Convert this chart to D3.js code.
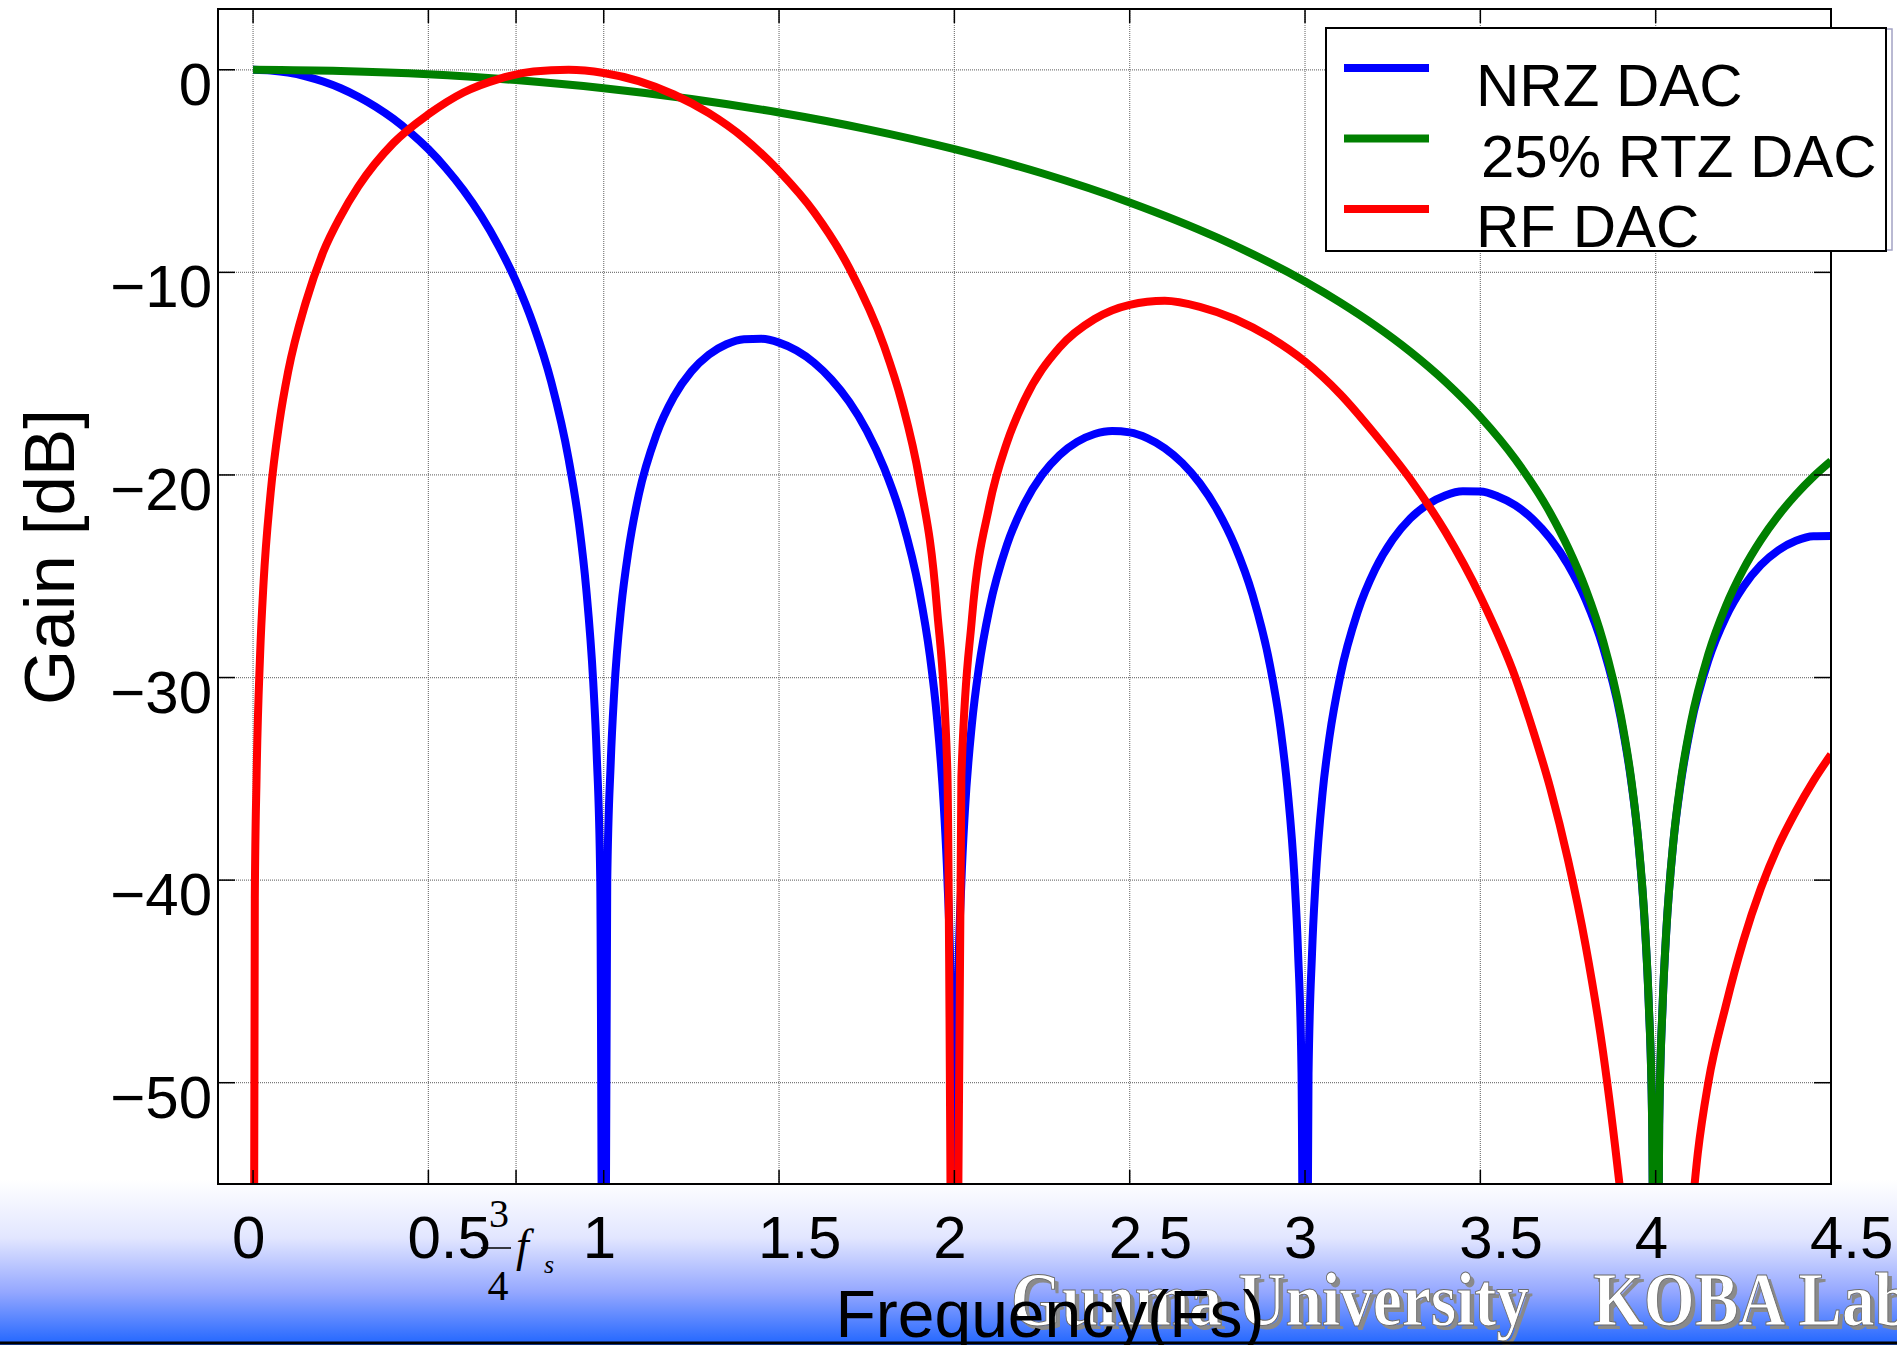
<!DOCTYPE html>
<meta charset="utf-8">

<!-- Load d3.js -->
<script src="https://d3js.org/d3.v7.min.js"></script>

<style>
  body { margin: 0; background: #fff; }
  svg { display: block; }
</style>

<div id="chart"></div>

<script>
// values: frequency in Fs, gain in dB
// (points below -55 dB fall in the nulls and are clipped by the axes)
const nrzFreq = [0, 0.05, 0.1, 0.15, 0.2, 0.25, 0.3, 0.35, 0.4, 0.45, 0.5, 0.55, 0.6, 0.65, 0.7, 0.75, 0.8, 0.85, 0.9, 0.93, 0.95, 0.97, 0.98, 0.99, 1.0,
  1.01, 1.02, 1.03, 1.05, 1.07, 1.1, 1.15, 1.2, 1.25, 1.3, 1.35, 1.4, 1.45, 1.5, 1.55, 1.6, 1.65, 1.7, 1.75, 1.8, 1.85, 1.9, 1.93, 1.95, 1.97, 1.98, 1.99, 2.0,
  2.01, 2.02, 2.03, 2.05, 2.07, 2.1, 2.15, 2.2, 2.25, 2.3, 2.35, 2.4, 2.45, 2.5, 2.55, 2.6, 2.65, 2.7, 2.75, 2.8, 2.85, 2.9, 2.93, 2.95, 2.97, 2.98, 2.99, 3.0,
  3.01, 3.02, 3.03, 3.05, 3.07, 3.1, 3.15, 3.2, 3.25, 3.3, 3.35, 3.4, 3.45, 3.5, 3.55, 3.6, 3.65, 3.7, 3.75, 3.8, 3.85, 3.9, 3.93, 3.95, 3.97, 3.98, 3.99, 4.0,
  4.01, 4.02, 4.03, 4.05, 4.07, 4.1, 4.15, 4.2, 4.25, 4.3, 4.35, 4.4, 4.45, 4.5];
const nrzGain = [0, -0.04, -0.14, -0.32, -0.58, -0.91, -1.33, -1.83, -2.42, -3.12, -3.92, -4.86, -5.94, -7.2, -8.69, -10.45, -12.62, -15.39, -19.23, -22.5, -25.6, -30.2, -33.8, -39.9, -80,
  -40.1, -34.2, -30.7, -26.5, -23.8, -20.97, -18.02, -16.14, -14.89, -14.06, -13.55, -13.3, -13.28, -13.47, -13.86, -14.46, -15.3, -16.39, -17.81, -19.67, -22.15, -25.72, -28.9, -31.9, -36.4, -39.9, -46.0, -80,
  -46.1, -40.1, -36.6, -32.3, -29.5, -26.59, -23.45, -21.41, -20.0, -19.02, -18.37, -17.98, -17.83, -17.9, -18.18, -18.68, -19.41, -20.41, -21.74, -23.5, -25.9, -29.39, -32.5, -35.5, -39.9, -43.5, -49.5, -80,
  -49.6, -43.6, -40.1, -35.7, -32.9, -29.97, -26.77, -24.66, -23.19, -22.15, -21.45, -21.01, -20.81, -20.82, -21.06, -21.5, -22.19, -23.15, -24.43, -26.15, -28.51, -31.97, -35.1, -38.0, -42.5, -46.0, -52.0, -80,
  -52.1, -46.1, -42.6, -38.2, -35.4, -32.4, -29.16, -27.02, -25.52, -24.45, -23.72, -23.25, -23.02, -23.01];

const rtzFreq = [0, 0.25, 0.5, 0.75, 1.0, 1.25, 1.5, 1.75, 2.0, 2.25, 2.5, 2.75, 3.0, 3.1, 3.2, 3.3, 3.4, 3.5, 3.6, 3.7, 3.75, 3.8, 3.85, 3.9, 3.93, 3.95, 3.97, 3.98, 3.99, 4.0,
  4.01, 4.02, 4.03, 4.05, 4.07, 4.1, 4.15, 4.2, 4.25, 4.3, 4.35, 4.4, 4.45, 4.5];
const rtzGain = [0, -0.06, -0.22, -0.51, -0.91, -1.44, -2.11, -2.93, -3.92, -5.11, -6.55, -8.29, -10.45, -11.48, -12.62, -13.91, -15.39, -17.13, -19.23, -21.9, -23.58, -25.61, -28.2, -31.83, -35.0, -37.96, -42.43, -45.98, -52.0, -80,
  -52.1, -46.07, -42.6, -38.17, -35.29, -32.26, -28.86, -26.48, -24.66, -23.21, -22.0, -20.97, -20.08, -19.31];

const rfFreq = [0, 0.005, 0.01, 0.02, 0.03, 0.05, 0.075, 0.1, 0.15, 0.2, 0.25, 0.3, 0.4, 0.5, 0.6, 0.7, 0.8, 0.9, 1.0, 1.1, 1.2, 1.3, 1.4, 1.5, 1.6, 1.7, 1.8, 1.85, 1.9, 1.95, 1.98, 2.0,
  2.02, 2.05, 2.1, 2.15, 2.2, 2.3, 2.4, 2.5, 2.6, 2.7, 2.8, 2.9, 3.0, 3.1, 3.2, 3.3, 3.4, 3.5, 3.6, 3.65, 3.7, 3.75, 3.8, 3.85, 3.9, 3.95, 4.0,
  4.05, 4.1, 4.12, 4.15, 4.2, 4.25, 4.3, 4.35, 4.4, 4.45, 4.5];
const rfGain = [-80, -40.9, -34.9, -28.9, -25.3, -20.9, -17.4, -14.9, -11.5, -9.0, -7.22, -5.77, -3.62, -2.2, -1.12, -0.46, -0.09, 0, -0.16, -0.56, -1.22, -2.14, -3.37, -5.0, -7.03, -9.78, -13.66, -16.4, -20.2, -26.5, -34.6, -80,
  -34.9, -27.1, -21.5, -18.4, -16.3, -13.7, -12.3, -11.6, -11.4, -11.7, -12.3, -13.2, -14.4, -16.0, -18.0, -20.2, -22.8, -26.0, -30.0, -32.6, -35.5, -39.0, -43.2, -48.5, -55.5, -64, -90,
  -66, -57, -53.5, -50.0, -46.2, -43.0, -40.4, -38.3, -36.6, -35.1, -33.8];

const seriesNames = ["NRZ DAC", " 25% RTZ DAC", "RF DAC"];
const seriesColors = ["#0000ff", "#008000", "#ff0000"];

const xTickValues = [0, 0.5, 1, 1.5, 2, 2.5, 3, 3.5, 4, 4.5];
const xTickLabels = ["0", "0.5", "1", "1.5", "2", "2.5", "3", "3.5", "4", "4.5"];
const fsMark = 0.75;   // extra grid line for 3/4 fs
const yTickValues = [0, -10, -20, -30, -40, -50];
const yTickLabels = ["0", "\u221210", "\u221220", "\u221230", "\u221240", "\u221250"];

// set the dimensions of the page and the axes box
const W = 1897, H = 1345;
const box = {left: 218, top: 9, right: 1831, bottom: 1184};

const svg = d3.select("#chart")
  .append("svg")
    .attr("width", W)
    .attr("height", H);

const defs = svg.append("defs");
const grad = defs.append("linearGradient")
    .attr("id", "band")
    .attr("x1", 0).attr("y1", 0).attr("x2", 0).attr("y2", 1);
grad.append("stop").attr("offset", "0").attr("stop-color", "#ffffff");
grad.append("stop").attr("offset", "0.35").attr("stop-color", "#e2e6ff");
grad.append("stop").attr("offset", "0.68").attr("stop-color", "#94a7ff");
grad.append("stop").attr("offset", "1").attr("stop-color", "#2166ff");

defs.append("clipPath").attr("id", "clip")
  .append("rect")
    .attr("x", box.left).attr("y", box.top)
    .attr("width", box.right - box.left).attr("height", box.bottom - box.top);

// page background and the blue band at the bottom
svg.append("rect").attr("width", W).attr("height", H).attr("fill", "#fff");
svg.append("rect")
    .attr("x", 0).attr("y", 1180).attr("width", W).attr("height", H - 1180)
    .attr("fill", "url(#band)");

// scales
const x = d3.scaleLinear().domain([-0.1, 4.5]).range([box.left, box.right]);
const y = d3.scaleLinear().domain([3, -55]).range([box.top, box.bottom]);

svg.append("rect")
    .attr("x", box.left).attr("y", box.top)
    .attr("width", box.right - box.left).attr("height", box.bottom - box.top)
    .attr("fill", "#fff");

// grid
const grid = svg.append("g")
    .attr("stroke", "#7a7a7a")
    .attr("stroke-width", 1.2)
    .attr("stroke-dasharray", "1,1");
grid.selectAll("line.gx")
  .data(xTickValues.concat([fsMark]))
  .join("line")
    .attr("x1", d => x(d)).attr("x2", d => x(d))
    .attr("y1", box.top).attr("y2", box.bottom);
grid.selectAll("line.gy")
  .data(yTickValues)
  .join("line")
    .attr("class", "gy")
    .attr("x1", box.left).attr("x2", box.right)
    .attr("y1", d => y(d)).attr("y2", d => y(d));

// the three responses
const series = [
  {freq: nrzFreq, gain: nrzGain},
  {freq: rtzFreq, gain: rtzGain},
  {freq: rfFreq, gain: rfGain}
];
const line = d3.line()
    .x(d => x(d[0]))
    .y(d => y(d[1]))
    .curve(d3.curveMonotoneX);

const curves = svg.append("g").attr("clip-path", "url(#clip)");
series.forEach(function(s, i) {
  curves.append("path")
      .datum(s.freq.map((f, j) => [f, s.gain[j]]))
      .attr("fill", "none")
      .attr("stroke", seriesColors[i])
      .attr("stroke-width", 8)
      .attr("stroke-linejoin", "round")
      .attr("d", line);
});

// axes box and inward ticks
svg.append("rect")
    .attr("x", box.left).attr("y", box.top)
    .attr("width", box.right - box.left).attr("height", box.bottom - box.top)
    .attr("fill", "none").attr("stroke", "#000").attr("stroke-width", 2);

const ticks = svg.append("g").attr("stroke", "#000").attr("stroke-width", 1.5);
xTickValues.concat([fsMark]).forEach(function(v) {
  ticks.append("line").attr("x1", x(v)).attr("x2", x(v)).attr("y1", box.bottom).attr("y2", box.bottom - 14);
  ticks.append("line").attr("x1", x(v)).attr("x2", x(v)).attr("y1", box.top).attr("y2", box.top + 14);
});
yTickValues.forEach(function(v) {
  ticks.append("line").attr("x1", box.left).attr("x2", box.left + 17).attr("y1", y(v)).attr("y2", y(v));
  ticks.append("line").attr("x1", box.right).attr("x2", box.right - 17).attr("y1", y(v)).attr("y2", y(v));
});

// tick labels
const font = "'Liberation Sans', Arial, sans-serif";
svg.append("g")
  .selectAll("text")
  .data(xTickValues)
  .join("text")
    .attr("x", d => x(d) - 21)
    .attr("y", 1258)
    .attr("font-family", font)
    .attr("font-size", 60)
    .text((d, i) => xTickLabels[i]);

svg.append("g")
  .selectAll("text")
  .data(yTickValues)
  .join("text")
    .attr("x", 212)
    .attr("y", d => y(d) + 35)
    .attr("text-anchor", "end")
    .attr("font-family", font)
    .attr("font-size", 60)
    .text((d, i) => yTickLabels[i]);

// 3/4 fs note under the axis
const serif = "'Liberation Serif', 'Times New Roman', serif";
svg.append("text").attr("x", 499).attr("y", 1227).attr("text-anchor", "middle")
    .attr("font-family", serif).attr("font-size", 40).text("3");
svg.append("line").attr("x1", 481).attr("x2", 511).attr("y1", 1248).attr("y2", 1248)
    .attr("stroke", "#000").attr("stroke-width", 1.5);
svg.append("text").attr("x", 498).attr("y", 1300).attr("text-anchor", "middle")
    .attr("font-family", serif).attr("font-size", 42).text("4");
svg.append("text").attr("x", 516).attr("y", 1261)
    .attr("font-family", serif).attr("font-style", "italic").attr("font-size", 46).text("f");
svg.append("text").attr("x", 544).attr("y", 1273)
    .attr("font-family", serif).attr("font-style", "italic").attr("font-size", 26).text("s");

// legend
const legend = svg.append("g");
legend.append("rect")
    .attr("x", 1332).attr("y", 29).attr("width", 560).attr("height", 221)
    .attr("fill", "none").attr("stroke", "#a3a3c4").attr("stroke-width", 1.5);
legend.append("rect")
    .attr("x", 1326).attr("y", 28).attr("width", 560).attr("height", 223)
    .attr("fill", "#fff").attr("stroke", "#000").attr("stroke-width", 2);
seriesNames.forEach(function(name, i) {
  const ly = 68 + i * 70.5;
  legend.append("line")
      .attr("x1", 1344).attr("x2", 1429).attr("y1", ly).attr("y2", ly)
      .attr("stroke", seriesColors[i]).attr("stroke-width", 8);
  legend.append("text")
      .attr("x", name.startsWith(" ") ? 1481 : 1476).attr("y", ly + 38)
      .attr("font-family", font).attr("font-size", 60)
      .text(name);
});

// axis titles
svg.append("text")
    .attr("transform", "translate(74,557) rotate(-90)")
    .attr("text-anchor", "middle")
    .attr("font-family", font).attr("font-size", 71)
    .text("Gain [dB]");

// lab mark in the band
function mark(txt, x0, len) {
  svg.append("text")
      .attr("x", x0 + 4).attr("y", 1329)
      .attr("font-family", serif).attr("font-weight", "bold").attr("font-size", 76)
      .attr("textLength", len).attr("lengthAdjust", "spacingAndGlyphs")
      .attr("fill", "#8a8a8a")
      .text(txt);
  svg.append("text")
      .attr("x", x0).attr("y", 1325)
      .attr("font-family", serif).attr("font-weight", "bold").attr("font-size", 76)
      .attr("textLength", len).attr("lengthAdjust", "spacingAndGlyphs")
      .attr("fill", "#fff").attr("stroke", "#6c6c6c").attr("stroke-width", 1)
      .text(txt);
}
mark("Gunma University", 1011, 518);
mark("KOBA Lab", 1593, 318);

svg.append("text")
    .attr("x", 1050).attr("y", 1337)
    .attr("text-anchor", "middle")
    .attr("font-family", font).attr("font-size", 66)
    .text("Frequency(Fs)");

svg.append("line")
    .attr("x1", 0).attr("x2", W).attr("y1", 1343).attr("y2", 1343)
    .attr("stroke", "#000").attr("stroke-width", 3);
</script>
